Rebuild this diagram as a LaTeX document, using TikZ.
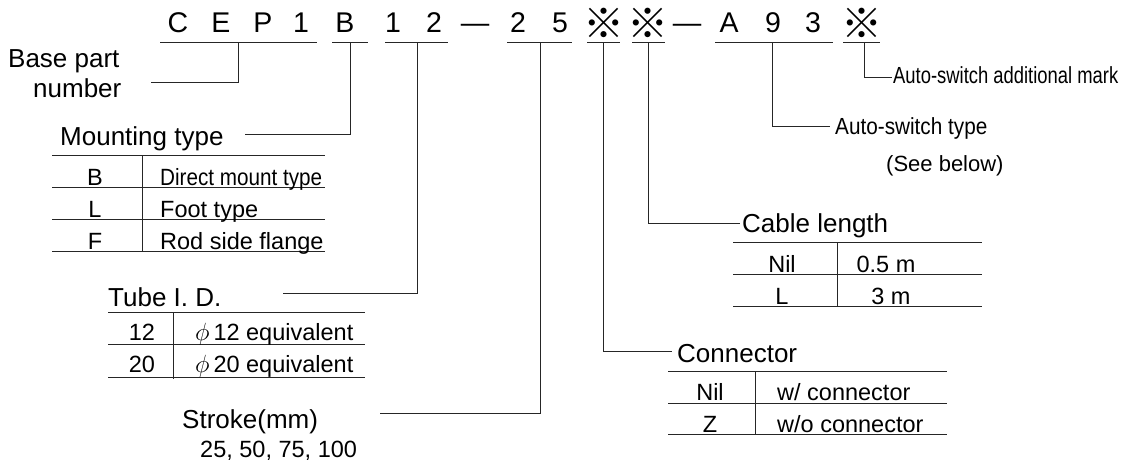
\documentclass[tikz,border=0pt]{standalone}
\usepackage{fontspec}
\setmainfont{Liberation Sans}
\newfontfamily\cjkfont{Noto Sans CJK JP}
\newfontfamily\narrowA[FakeStretch=0.79]{Liberation Sans}
\newfontfamily\narrowB[FakeStretch=0.89]{Liberation Sans}
\newfontfamily\narrowC[FakeStretch=0.88]{Liberation Sans}
\begin{document}
\begin{tikzpicture}[x=1pt,y=-1pt,
  codech/.style={inner sep=0pt, anchor=base, font=\fontsize{28.5}{32}\selectfont},
  refmark/.style={inner sep=0pt, anchor=center, font=\cjkfont\fontsize{41}{44}\selectfont},
  head/.style={inner sep=0pt, anchor=base west, font=\fontsize{26}{30}\selectfont},
  cell/.style={inner sep=0pt, anchor=base, font=\fontsize{23.5}{27}\selectfont},
  celll/.style={inner sep=0pt, anchor=base west, font=\fontsize{23.5}{27}\selectfont},
  uline/.style={line width=1pt, black!85},
  leader/.style={line width=0.9pt, black!85},
  rule/.style={line width=0.9pt, black!85}]
\useasboundingbox (0,0) rectangle (1130,461);

% ---- code characters ----
\node[codech] (cC) at (178,32) {C};
\node[codech] (cE) at (221,32) {E};
\node[codech] (cP) at (263,32) {P};
\node[codech] (c1) at (301,32) {1};
\node[codech] (cB) at (345,32) {B};
\node[codech] (c1b) at (393,32) {1};
\node[codech] (c2) at (434,32) {2};
\node[codech] (d1) at (475,32) {—};
\node[codech] (c2b) at (518,32) {2};
\node[codech] (c5) at (560,32) {5};
\node[refmark] (r1) at (604,23) {※};
\node[refmark] (r2) at (648,23) {※};
\node[codech] (d2) at (687,32) {—};
\node[codech] (cA) at (729,32) {A};
\node[codech] (c9) at (773,32) {9};
\node[codech] (c3) at (813,32) {3};
\node[refmark] (r3) at (862,23) {※};

% ---- underlines ----
\draw[uline] (160,42) -- (317,42);
\draw[uline] (332,42) -- (368,42);
\draw[uline] (385,42) -- (448,42);
\draw[uline] (507,42) -- (572,42);
\draw[uline] (587,42) -- (620,42);
\draw[uline] (632,42) -- (665,42);
\draw[uline] (715,42) -- (833,42);
\draw[uline] (843,42) -- (880,42);

% ---- leader anchor points ----
\coordinate (uBase) at (238.5,42);
\coordinate (uMount) at (350,42);
\coordinate (uTube) at (417,42);
\coordinate (uStroke) at (540,42);
\coordinate (uConn) at (603,42);
\coordinate (uCable) at (648,42);
\coordinate (uSw) at (772,42);
\coordinate (uAdd) at (864,42);

\coordinate (eBase) at (151,82);
\coordinate (eMount) at (245,134);
\coordinate (eTube) at (283,293);
\coordinate (eStroke) at (380,413);
\coordinate (eConn) at (672,351);
\coordinate (eCable) at (740,223);
\coordinate (eSw) at (830,126);
\coordinate (eAdd) at (892,77);

\draw[leader] (uBase) |- (eBase);
\draw[leader] (uMount) |- (eMount);
\draw[leader] (uTube) |- (eTube);
\draw[leader] (uStroke) |- (eStroke);
\draw[leader] (uConn) |- (eConn);
\draw[leader] (uCable) |- (eCable);
\draw[leader] (uSw) |- (eSw);
\draw[leader] (uAdd) |- (eAdd);

% ---- Base part number ----
\node[head] (base1) at (8,67) {Base part};
\node[head] (base2) at (33,97) {number};

% ---- Mounting type ----
\node[head] (mtitle) at (60,145) {Mounting type};
\draw[rule] (52,155) -- (325,155);
\draw[rule] (52,187) -- (325,187);
\draw[rule] (52,219) -- (325,219);
\draw[rule] (52,251) -- (325,251);
\draw[rule] (142,155) -- (142,252);
\node[cell] (mB) at (95,185) {B};
\node[cell] (mL) at (95,217) {L};
\node[cell] (mF) at (95,249) {F};
\node[celll,font=\narrowC\fontsize{23.5}{27}\selectfont] (mBd) at (160,185) {Direct mount type};
\node[celll] (mLd) at (160,217) {Foot type};
\node[celll] (mFd) at (160,249) {Rod side flange};

% ---- Tube I. D. ----
\node[head] (ttitle) at (108,306) {Tube I. D.};
\draw[rule] (108,312) -- (365,312);
\draw[rule] (108,344) -- (365,344);
\draw[rule] (108,377) -- (365,377);
\draw[rule] (173,312) -- (173,379);
\node[cell] (t12) at (142,340) {12};
\node[cell] (t20) at (142,372) {20};
\node[celll] (t12d) at (195,340) {$\phi$\,12 equivalent};
\node[celll] (t20d) at (195,372) {$\phi$\,20 equivalent};

% ---- Stroke ----
\node[head] (stitle) at (182,428) {Stroke(mm)};
\node[celll] (svals) at (200,457) {25, 50, 75, 100};

% ---- Cable length ----
\node[head] (ctitle) at (742,232) {Cable length};
\draw[rule] (733,242) -- (982,242);
\draw[rule] (733,274) -- (982,274);
\draw[rule] (733,306) -- (982,306);
\draw[rule] (837,242) -- (837,306);
\node[cell] (cNil) at (782,272) {Nil};
\node[cell] (cL) at (782,304) {L};
\node[cell] (c05) at (886,272) {0.5 m};
\node[cell] (c3m) at (891,304) {3 m};

% ---- Connector ----
\node[head] (ntitle) at (677,362) {Connector};
\draw[rule] (668,371) -- (947,371);
\draw[rule] (668,403) -- (947,403);
\draw[rule] (668,434) -- (947,434);
\draw[rule] (755,371) -- (755,434);
\node[cell] (nNil) at (710,400) {Nil};
\node[cell] (nZ) at (710,432) {Z};
\node[celll] (nNild) at (777,400) {w/ connector};
\node[celll] (nZd) at (777,432) {w/o connector};

% ---- Auto-switch ----
\node[head,font=\narrowA\fontsize{23.3}{27}\selectfont] (addmark) at (893,83) {Auto-switch additional mark};
\node[head,font=\narrowB\fontsize{23.3}{27}\selectfont] (swtype) at (835,134) {Auto-switch type};
\node[head,font=\fontsize{22}{26}\selectfont] (below) at (886,171) {(See below)};
\end{tikzpicture}
\end{document}
